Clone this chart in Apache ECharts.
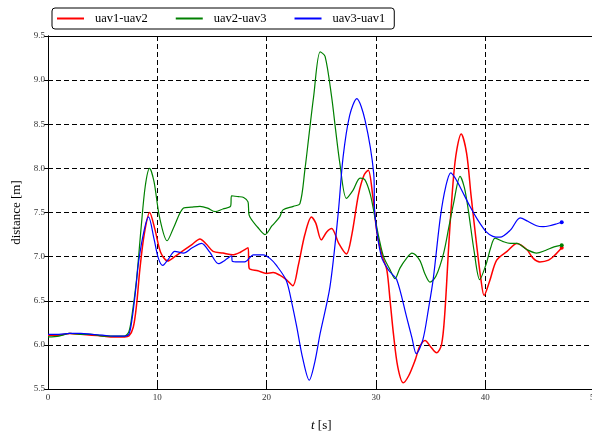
<!DOCTYPE html>
<html><head><meta charset="utf-8">
<script src="https://cdn.jsdelivr.net/npm/echarts@6/dist/echarts.min.js"></script>
<style>html,body{margin:0;padding:0;background:#fff;overflow:hidden}#c{width:592px;height:434px}</style>
</head><body><div id="c"></div>
<script>
var xTicks = [0, 10, 20, 30, 40, 50];
var yTicks = [5.5, 6.0, 6.5, 7.0, 7.5, 8.0, 8.5, 9.0, 9.5];
var seriesNames = ['uav1-uav2', 'uav2-uav3', 'uav3-uav1'];

var uav12 = [[0,6.11],[1,6.11],[2,6.13],[3,6.12],[4,6.11],[5,6.10],[6,6.09],[7,6.09],[7.4,6.10],[7.8,6.2],[8.1,6.45],[8.4,6.85],[8.8,7.25],[9.3,7.5],[9.8,7.3],[10.3,7.05],[10.95,6.95],[11.6,7.0],[12.4,7.07],[13.2,7.14],[13.9,7.2],[14.5,7.14],[15.1,7.06],[16.0,7.04],[16.9,7.02],[17.6,7.05],[18.3,7.1],[18.4,6.87],[19.2,6.84],[20.0,6.81],[20.6,6.82],[21.2,6.79],[21.8,6.74],[22.4,6.67],[22.9,6.9],[23.5,7.25],[24.1,7.45],[24.5,7.38],[25.0,7.19],[25.5,7.28],[25.95,7.32],[26.6,7.15],[27.3,7.03],[27.8,7.25],[28.4,7.7],[28.9,7.92],[29.3,7.98],[29.7,7.7],[30.1,7.27],[30.6,7.0],[31.0,6.85],[31.3,6.5],[31.6,6.13],[32.0,5.75],[32.5,5.57],[33.0,5.65],[33.6,5.83],[34.0,5.98],[34.5,6.05],[35.0,5.98],[35.55,5.91],[36.0,6.0],[36.3,6.35],[36.7,7.2],[37.1,7.9],[37.4,8.21],[37.8,8.39],[38.3,8.17],[38.7,7.7],[39.2,7.15],[39.6,6.75],[39.9,6.56],[40.4,6.72],[41.05,6.96],[42.0,7.06],[42.9,7.15],[43.8,7.08],[44.4,6.98],[45.0,6.94],[45.8,6.96],[46.4,7.02],[47.0,7.1]];

var uav23 = [[0,6.09],[1,6.10],[2,6.13],[3,6.12],[4,6.12],[5,6.10],[6,6.10],[7,6.10],[7.4,6.15],[7.7,6.35],[8.1,6.74],[8.5,7.3],[8.9,7.8],[9.3,8.0],[9.7,7.85],[10.2,7.45],[10.9,7.18],[11.5,7.33],[12.4,7.55],[13.1,7.56],[13.9,7.57],[14.6,7.55],[15.3,7.51],[16.0,7.54],[16.7,7.57],[16.8,7.69],[17.4,7.68],[17.9,7.67],[18.3,7.62],[18.4,7.47],[19.2,7.33],[19.85,7.25],[20.5,7.35],[21.2,7.45],[21.5,7.53],[22.45,7.57],[23.05,7.6],[23.5,7.98],[23.9,8.4],[24.3,8.81],[24.9,9.32],[25.35,9.27],[25.95,8.81],[26.3,8.45],[26.7,8.06],[27.3,7.66],[27.9,7.75],[28.55,7.89],[29.0,7.87],[29.5,7.7],[29.9,7.45],[30.3,7.2],[30.7,7.0],[31.3,6.85],[31.75,6.75],[32.2,6.87],[32.8,6.98],[33.3,7.04],[34.0,6.96],[34.5,6.8],[34.95,6.71],[35.5,6.78],[36.2,7.04],[36.7,7.35],[37.1,7.6],[37.7,7.91],[38.1,7.78],[38.45,7.53],[39.0,7.05],[39.5,6.74],[40.1,6.92],[40.5,7.1],[40.9,7.21],[41.65,7.17],[42.3,7.15],[42.9,7.15],[43.8,7.08],[44.7,7.04],[45.5,7.07],[46.3,7.11],[47.0,7.13]];

var uav31 = [[0,6.12],[1,6.12],[2,6.13],[3,6.13],[4,6.12],[5,6.11],[6,6.10],[7,6.10],[7.4,6.12],[7.7,6.3],[8.0,6.6],[8.3,6.95],[8.8,7.3],[9.2,7.45],[9.7,7.2],[10.1,6.98],[10.5,6.9],[11.0,6.97],[11.6,7.06],[12.4,7.04],[13.2,7.1],[14.05,7.15],[14.8,7.05],[15.6,6.92],[16.2,6.96],[16.8,7.01],[16.85,6.95],[17.4,6.94],[18.0,6.94],[18.8,7.02],[19.7,7.02],[20.3,6.98],[20.9,6.9],[21.8,6.73],[22.3,6.48],[22.75,6.21],[23.3,5.85],[23.9,5.6],[24.4,5.8],[24.9,6.13],[25.8,6.66],[26.55,7.49],[27.0,8.13],[27.6,8.6],[28.25,8.79],[29.0,8.55],[29.8,7.94],[29.9,7.49],[30.5,7.0],[31.2,6.84],[31.9,6.74],[32.8,6.32],[33.3,6.08],[33.7,5.9],[34.3,6.06],[34.8,6.4],[35.25,6.75],[35.9,7.45],[36.4,7.8],[36.85,7.95],[37.2,7.9],[37.7,7.79],[38.6,7.57],[39.3,7.42],[40.1,7.28],[40.7,7.23],[41.35,7.22],[42.3,7.3],[43.2,7.44],[43.9,7.4],[44.7,7.35],[45.3,7.34],[45.9,7.35],[46.5,7.37],[47.0,7.39]];

var colors = ['#ff0000', '#008000', '#0000ff'];
var dataSets = [uav12, uav23, uav31];

function withEndDot(arr) {
  return arr.map(function (p, i) {
    if (i === arr.length - 1) return { value: p, symbol: 'circle', symbolSize: 4 };
    return p;
  });
}

var FONT = '"Liberation Serif", "DejaVu Serif", serif';
var chart = echarts.init(document.getElementById('c'), null, { renderer: 'canvas' });

var series = dataSets.map(function (d, i) {
  return {
    name: seriesNames[i],
    type: 'line',
    data: withEndDot(d),
    symbol: 'none',
    showSymbol: true,
    smooth: 0.3,
    clip: true,
    lineStyle: { color: colors[i], width: i === 0 ? 1.5 : 1.2 },
    itemStyle: { color: colors[i] },
    emphasis: { disabled: true },
    animation: false
  };
});

var gridLine = { show: true, lineStyle: { color: '#000', type: [5, 3], width: 1 } };

chart.setOption({
  animation: false,
  backgroundColor: '#fff',
  textStyle: { fontFamily: FONT },
  legend: {
    data: seriesNames,
    left: 52, top: 8,
    orient: 'horizontal',
    itemWidth: 27, itemHeight: 12,
    itemGap: 28,
    padding: [4, 9, 4, 5],
    borderColor: '#000', borderWidth: 1, borderRadius: 3,
    backgroundColor: '#fff',
    textStyle: { fontFamily: FONT, fontSize: 12.5, color: '#000', padding: [0, 0, 0, 6] },
    icon: 'path://M0,0 L27,0 L27,2 L0,2 Z',
    selectedMode: false
  },
  grid: { left: 48, width: 546.5, top: 36, height: 353, containLabel: false, outerBoundsMode: 'none' },
  xAxis: [{
    type: 'value', min: 0, max: 50, interval: 10,
    name: '{i|t} [s]', nameLocation: 'middle', nameGap: 30,
    nameTextStyle: { fontFamily: FONT, fontSize: 13, color: '#000',
      rich: { i: { fontStyle: 'italic', fontFamily: FONT, fontSize: 13, color: '#000' } } },
    axisLine: { show: true, lineStyle: { color: '#000', width: 1 } },
    axisTick: { show: true, inside: true, length: 4, lineStyle: { color: '#000' } },
    axisLabel: { fontFamily: FONT, fontSize: 9, color: '#333', margin: 4, showMaxLabel: true,
      formatter: function (v) { return xTicks.indexOf(v) >= 0 ? String(v) : ''; } },
    splitLine: gridLine
  }, {
    type: 'value', min: 0, max: 50, interval: 10, position: 'top',
    axisLine: { show: true, lineStyle: { color: '#000', width: 1 } },
    axisTick: { show: true, inside: true, length: 4, lineStyle: { color: '#000' } },
    axisLabel: { show: false }, splitLine: { show: false }
  }],
  yAxis: [{
    type: 'value', min: 5.5, max: 9.5, interval: 0.5,
    name: 'distance [m]', nameLocation: 'middle', nameGap: 23, nameRotate: 90,
    nameTextStyle: { fontFamily: FONT, fontSize: 13, color: '#000' },
    axisLine: { show: true, lineStyle: { color: '#000', width: 1 } },
    axisTick: { show: true, inside: true, length: 4, lineStyle: { color: '#000' } },
    axisLabel: { fontFamily: FONT, fontSize: 9, color: '#333', margin: 3,
      formatter: function (v) { return v.toFixed(1); } },
    splitLine: gridLine
  }, {
    type: 'value', min: 5.5, max: 9.5, interval: 0.5, position: 'right',
    axisLine: { show: true, lineStyle: { color: '#000', width: 1 } },
    axisTick: { show: true, inside: true, length: 4, lineStyle: { color: '#000' } },
    axisLabel: { show: false }, splitLine: { show: false }
  }],
  series: series
});
</script>
</body></html>
